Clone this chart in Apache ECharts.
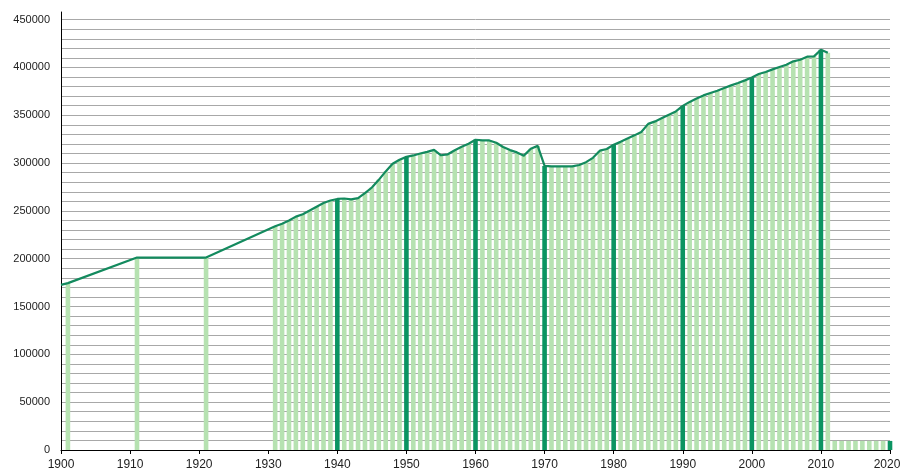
<!DOCTYPE html>
<html>
<head>
<meta charset="utf-8">
<script src="https://cdn.jsdelivr.net/npm/echarts@6/dist/echarts.min.js"></script>
<style>html,body{margin:0;padding:0;background:#fff}#c{width:900px;height:470px}</style>
</head>
<body>
<div id="c"></div>
<script>
// Line start point (before first bar)
const lineStartYear = [1900];
const lineStartValue = [172700];

// Population by year
const years = [1901, 1911, 1921,
  1931, 1932, 1933, 1934, 1935, 1936, 1937, 1938, 1939, 1940,
  1941, 1942, 1943, 1944, 1945, 1946, 1947, 1948, 1949, 1950,
  1951, 1952, 1953, 1954, 1955, 1956, 1957, 1958, 1959, 1960,
  1961, 1962, 1963, 1964, 1965, 1966, 1967, 1968, 1969, 1970,
  1971, 1972, 1973, 1974, 1975, 1976, 1977, 1978, 1979, 1980,
  1981, 1982, 1983, 1984, 1985, 1986, 1987, 1988, 1989, 1990,
  1991, 1992, 1993, 1994, 1995, 1996, 1997, 1998, 1999, 2000,
  2001, 2002, 2003, 2004, 2005, 2006, 2007, 2008, 2009, 2010, 2011];
const population = [174500, 201200, 201200,
  234000, 236500, 240000, 244000, 246500, 250400, 254300, 258200, 260900, 262500,
  263000, 262000, 263400, 268600, 274500, 282500, 291300, 299300, 303500, 306500,
  308000, 310000, 311800, 313800, 308200, 309200, 313500, 317000, 320200, 324400,
  323700, 323700, 321300, 316800, 313600, 311200, 307800, 315000, 318000, 297000,
  296500, 296500, 296500, 296500, 298000, 301000, 305500, 313000, 314700, 319200,
  322200, 325600, 329000, 332500, 341000, 343600, 347100, 350600, 354000, 359800,
  364000, 367500, 370800, 373300, 375700, 378500, 381300, 383700, 386500, 389600,
  393100, 395300, 398000, 400500, 402900, 406400, 408100, 411300, 411600, 418600, 415500];

// Low placeholder bars at the end
const tailYears = [2012, 2013, 2014, 2015, 2016, 2017, 2018, 2019, 2020];
const tailValues = [9500, 9500, 9500, 9500, 9500, 9500, 9500, 9500, 9500];

// Axis ticks
const yLabelStep = 50000;
const yGridStep = 10000;

const LIGHT = '#b6e2b1';
const DARK = '#0b9462';
const LINE = '#138a5e';

const barData = years.map((y, i) => ({
  value: [y, population[i]],
  itemStyle: { color: y % 10 === 0 ? DARK : LIGHT }
})).concat(tailYears.map((y, i) => ({
  value: [y, tailValues[i]],
  itemStyle: { color: y % 10 === 0 ? DARK : LIGHT }
})));

const lineData = lineStartYear.map((y, i) => [y, lineStartValue[i]])
  .concat(years.map((y, i) => [y, population[i]]));

const chart = echarts.init(document.getElementById('c'), null, { renderer: 'canvas' });
chart.setOption({
  animation: false,
  backgroundColor: '#ffffff',
  grid: { left: 61, right: 10, top: 12, bottom: 20, containLabel: false, outerBoundsMode: 'none' },
  xAxis: {
    type: 'value', min: 1900, max: 2020, interval: 10,
    axisLine: { show: true, lineStyle: { color: '#000', width: 1 } },
    axisTick: { show: true, length: 4, lineStyle: { color: '#000' } },
    axisLabel: { color: '#222', fontSize: 12, fontFamily: 'Liberation Sans, Arial, sans-serif', margin: 9,
      formatter: v => v === 2020 ? '{last|' + v + '}' : String(v),
      rich: { last: { color: '#222', fontSize: 12, fontFamily: 'Liberation Sans, Arial, sans-serif', padding: [0, 6, 0, 0] } } },
    splitLine: { show: false }
  },
  yAxis: {
    type: 'value', min: 0, max: 458000, interval: yGridStep,
    axisLine: { show: true, lineStyle: { color: '#000', width: 1 } },
    axisTick: { show: false },
    axisLabel: {
      color: '#222', fontSize: 11, fontFamily: 'Liberation Sans, Arial, sans-serif', margin: 11,
      showMaxLabel: false,
      formatter: v => (v % yLabelStep === 0 && v <= 450000) ? String(v) : ''
    },
    splitLine: { show: true, showMaxLine: false, lineStyle: { color: '#a8a8a8', width: 1 } }
  },
  series: [
    {
      type: 'bar', data: barData, barWidth: 4.6, z: 2,
      emphasis: { disabled: true }
    },
    {
      type: 'line', data: lineData, symbol: 'none', z: 3,
      lineStyle: { color: LINE, width: 2.2 },
      emphasis: { disabled: true }
    }
  ]
});
</script>
</body>
</html>
